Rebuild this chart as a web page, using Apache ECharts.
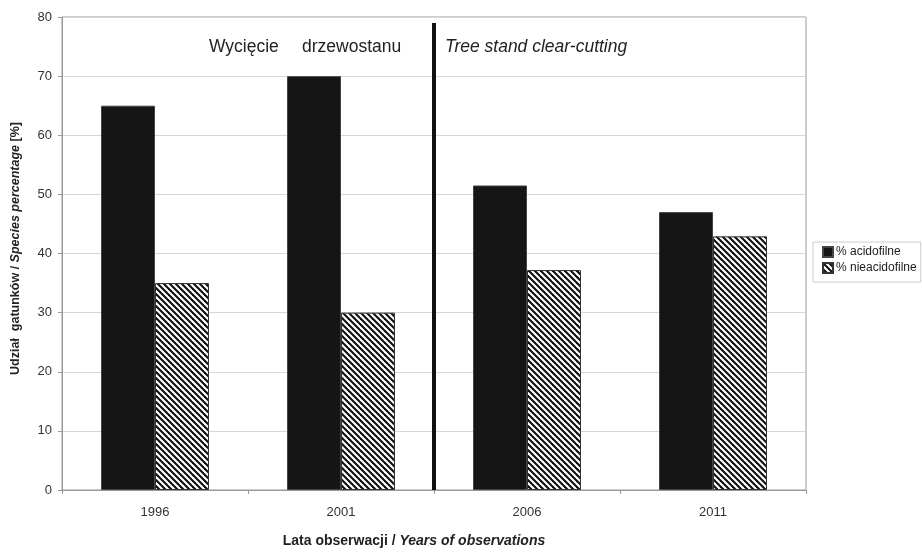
<!DOCTYPE html>
<html>
<head>
<meta charset="utf-8">
<script src="https://cdn.jsdelivr.net/npm/echarts@6/dist/echarts.min.js"></script>
<style>
  html, body { margin: 0; padding: 0; background: #fff; }
  #chart { width: 922px; height: 553px; }
</style>
</head>
<body>
<div id="chart"></div>
<script>
// Observation years and species shares (%)
const years = ['1996', '2001', '2006', '2011'];
const acidofilne = [65, 70, 51.5, 47];
const nieacidofilne = [35, 30, 37.2, 42.9];
const yTicks = [0, 10, 20, 30, 40, 50, 60, 70, 80];
// Clear-cutting event: drawn on the boundary between 2001 and 2006
const cutPosition = 2;      // category boundary index
const cutLineTop = 79;      // value reached by the marker line

const FONT = '"Liberation Sans", Arial, sans-serif';

// Diagonal hatch pattern for the non-acidophilous share
function hatchPattern() {
  const size = 12;
  const step = 6;
  const c = document.createElement('canvas');
  c.width = size; c.height = size;
  const ctx = c.getContext('2d');
  ctx.fillStyle = '#fff';
  ctx.fillRect(0, 0, size, size);
  ctx.strokeStyle = '#111';
  ctx.lineWidth = 2.1;
  for (let k = -3; k <= 3; k++) {
    ctx.beginPath();
    ctx.moveTo(k * step - 1, -1);
    ctx.lineTo(k * step + size + 1, size + 1);
    ctx.stroke();
  }
  return c;
}

const chart = echarts.init(document.getElementById('chart'), null, { renderer: 'canvas' });

chart.setOption({
  backgroundColor: '#fff',
  animation: false,
  textStyle: { fontFamily: FONT },
  grid: {
    left: 62, right: 116, top: 17, bottom: 52,
    show: true, borderColor: '#999', borderWidth: 1, backgroundColor: 'transparent'
  },
  legend: {
    orient: 'vertical',
    left: 813, top: 242,
    padding: [4, 4, 8, 9],
    itemWidth: 10, itemHeight: 10, itemGap: 4,
    borderColor: '#ccc', borderWidth: 1,
    icon: 'rect',
    textStyle: { fontSize: 12, color: '#222', fontFamily: FONT, lineHeight: 10, padding: [0, 0, 0, -2] },
    data: ['% acidofilne', '% nieacidofilne']
  },
  xAxis: [
    {
      type: 'category',
      data: years,
      axisLine: { lineStyle: { color: '#999', width: 1 } },
      axisTick: { show: true, length: 4, lineStyle: { color: '#999' } },
      axisLabel: { fontSize: 13, color: '#333', margin: 16, fontFamily: FONT },
      name: '{a|Lata obserwacji / }{b|Years of observations}',
      nameLocation: 'middle',
      nameGap: 44,
      nameTextStyle: {
        padding: [0, 40, 0, 0],
        rich: {
          a: { fontSize: 14, fontWeight: 'bold', color: '#222', fontFamily: FONT },
          b: { fontSize: 14, fontWeight: 'bold', fontStyle: 'italic', color: '#222', fontFamily: FONT }
        }
      },
      splitLine: { show: false }
    },
    {
      type: 'value',
      min: 0, max: years.length,
      show: false
    }
  ],
  yAxis: {
    type: 'value',
    min: yTicks[0], max: yTicks[yTicks.length - 1], interval: 10,
    axisLine: { show: true, lineStyle: { color: '#999', width: 1 } },
    axisTick: { show: true, length: 4, lineStyle: { color: '#999' } },
    axisLabel: { fontSize: 13, color: '#333', margin: 10, fontFamily: FONT },
    splitLine: { lineStyle: { color: '#d6d6d6', width: 1 } },
    name: '{a|Udział  gatunków / }{b|Species percentage}{a| [%]}',
    nameLocation: 'middle',
    nameGap: 40,
    nameRotate: 90,
    nameTextStyle: {
      padding: [0, 0, 0, 10],
      rich: {
        a: { fontSize: 12.5, fontWeight: 'bold', color: '#222', fontFamily: FONT },
        b: { fontSize: 12.5, fontWeight: 'bold', fontStyle: 'italic', color: '#222', fontFamily: FONT }
      }
    }
  },
  series: [
    {
      name: '% acidofilne',
      type: 'bar',
      data: acidofilne,
      barWidth: 54,
      barGap: '0%',
      itemStyle: { color: '#151515', borderColor: '#444', borderWidth: 1 }
    },
    {
      name: '% nieacidofilne',
      type: 'bar',
      data: nieacidofilne,
      barWidth: 54,
      barGap: '0%',
      itemStyle: {
        color: { image: hatchPattern(), repeat: 'repeat' },
        borderColor: '#333', borderWidth: 1
      }
    },
    {
      name: 'cut',
      type: 'line',
      xAxisIndex: 1,
      data: [[cutPosition, 0], [cutPosition, cutLineTop]],
      symbol: 'none',
      lineStyle: { color: '#111', width: 4 },
      z: 5,
      silent: true
    }
  ],
  graphic: [
    {
      type: 'text', left: 209, top: 38,
      style: { text: 'Wycięcie', font: '17.5px ' + FONT, fill: '#222' }
    },
    {
      type: 'text', left: 302, top: 38,
      style: { text: 'drzewostanu', font: '17.5px ' + FONT, fill: '#222' }
    },
    {
      type: 'text', left: 445, top: 38,
      style: { text: 'Tree stand clear-cutting', font: 'italic 17.5px ' + FONT, fill: '#222' }
    }
  ]
});
</script>
</body>
</html>
